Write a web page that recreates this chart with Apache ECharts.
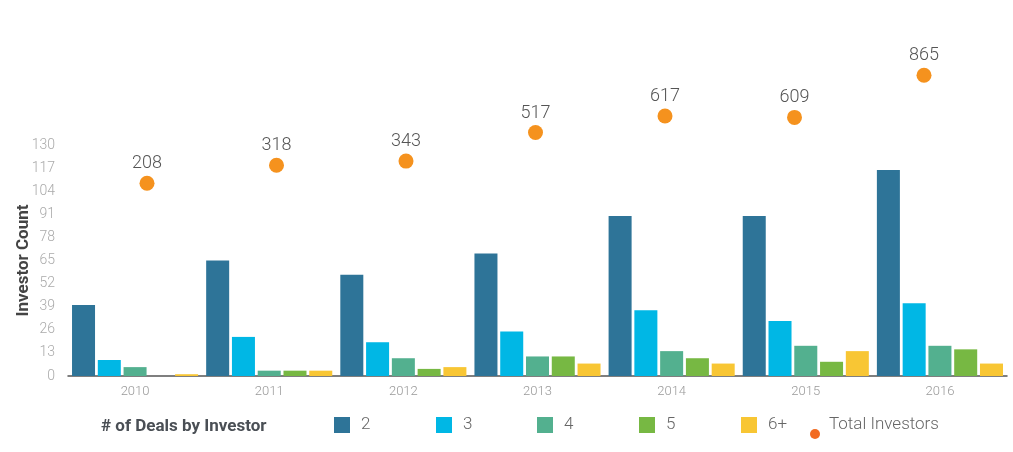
<!DOCTYPE html>
<html>
<head>
<meta charset="utf-8">
<script src="https://cdn.jsdelivr.net/npm/echarts@6/dist/echarts.min.js"></script>
<style>
  html, body { margin: 0; padding: 0; background: #fff; }
  #chart { width: 1013px; height: 452px; }
</style>
</head>
<body>
<div id="chart"></div>
<script>
// data
const years = ['2010', '2011', '2012', '2013', '2014', '2015', '2016'];
const deals2 = [40, 65, 57, 69, 90, 90, 116];
const deals3 = [9, 22, 19, 25, 37, 31, 41];
const deals4 = [5, 3, 10, 11, 14, 17, 17];
const deals5 = [0, 3, 4, 11, 10, 8, 15];
const deals6 = [1, 3, 5, 7, 7, 14, 7];
const totalInvestors = [208, 318, 343, 517, 617, 609, 865];

const barNames = ['2', '3', '4', '5', '6+'];
const barData = [deals2, deals3, deals4, deals5, deals6];
const barColors = ['#2e7498', '#00b7e5', '#53b08f', '#77b843', '#f8c634'];
const legendLeft = [329, 431, 532, 634, 736];
const font = 'Roboto, "DejaVu Sans", sans-serif';

const myChart = echarts.init(document.getElementById('chart'));

const barSeries = barNames.map((name, i) => ({
  name: name,
  type: 'bar',
  xAxisIndex: 0,
  yAxisIndex: 0,
  data: barData[i],
  itemStyle: { color: barColors[i] },
  barGap: '12%',
  barCategoryGap: '6%'
}));

const legendText = { fontFamily: font, fontSize: 17, fontWeight: 300, color: '#666' };

// one legend per item so the spacing stays even
const barLegends = barNames.map((name, i) => ({
  data: [name],
  left: legendLeft[i],
  top: 411.5,
  icon: 'rect',
  itemWidth: 16,
  itemHeight: 16,
  selectedMode: false,
  textStyle: Object.assign({ padding: [0, 0, 0, 6] }, legendText)
}));

// dot sits lower than its text, so icon and text come from two legends
const totalLegends = [
  {
    data: [{ name: 'Total Investors', itemStyle: { color: '#f26b21' } }],
    left: 805,
    top: 424,
    icon: 'circle',
    itemWidth: 10,
    itemHeight: 10,
    selectedMode: false,
    formatter: () => ''
  },
  {
    data: ['Total Investors'],
    left: 809,
    top: 411.5,
    icon: 'none',
    itemWidth: 10,
    itemHeight: 16,
    selectedMode: false,
    textStyle: legendText
  }
];

const options = {
  animation: false,
  title: {
    text: '# of Deals by Investor',
    left: 96,
    top: 413,
    textStyle: { fontFamily: font, fontSize: 17, fontWeight: 'bold', color: '#4a4f55' }
  },
  legend: barLegends.concat(totalLegends),
  grid: [
    { left: 68, right: 6, top: 145, bottom: 76, outerBoundsMode: 'none' },
    // the dots sit on their own, slightly narrower band
    { left: 82.25, right: 24.25, top: 145, bottom: 76, outerBoundsMode: 'none' }
  ],
  xAxis: [
    {
      type: 'category',
      gridIndex: 0,
      data: years,
      axisLine: { lineStyle: { color: '#555', width: 1.5 } },
      axisTick: { show: false },
      axisLabel: { color: '#999', fontFamily: font, fontSize: 13, fontWeight: 300, margin: 9 }
    },
    {
      type: 'category',
      gridIndex: 1,
      data: years,
      show: false
    }
  ],
  yAxis: [
    {
      type: 'value',
      gridIndex: 0,
      min: 0,
      max: 130,
      interval: 13,
      name: 'Investor Count',
      nameLocation: 'middle',
      nameGap: 36,
      nameMoveOverlap: false,
      nameTextStyle: { fontFamily: font, fontSize: 17, fontWeight: 'bold', color: '#444' },
      axisLine: { show: false },
      axisTick: { show: false },
      splitLine: { show: false },
      axisLabel: { color: '#aaa', fontFamily: font, fontSize: 14, fontWeight: 300, margin: 13 }
    },
    {
      type: 'value',
      gridIndex: 1,
      min: -964,
      max: 441,
      show: false,
      splitLine: { show: false }
    }
  ],
  series: barSeries.concat([{
    name: 'Total Investors',
    type: 'scatter',
    xAxisIndex: 1,
    yAxisIndex: 1,
    data: totalInvestors,
    symbol: 'circle',
    symbolSize: 15,
    clip: false,
    itemStyle: { color: '#f5921e', opacity: 1 },
    label: {
      show: true,
      position: 'top',
      distance: 3,
      fontFamily: font,
      fontSize: 18,
      fontWeight: 300,
      color: '#555'
    }
  }])
};

myChart.setOption(options);
</script>
</body>
</html>
